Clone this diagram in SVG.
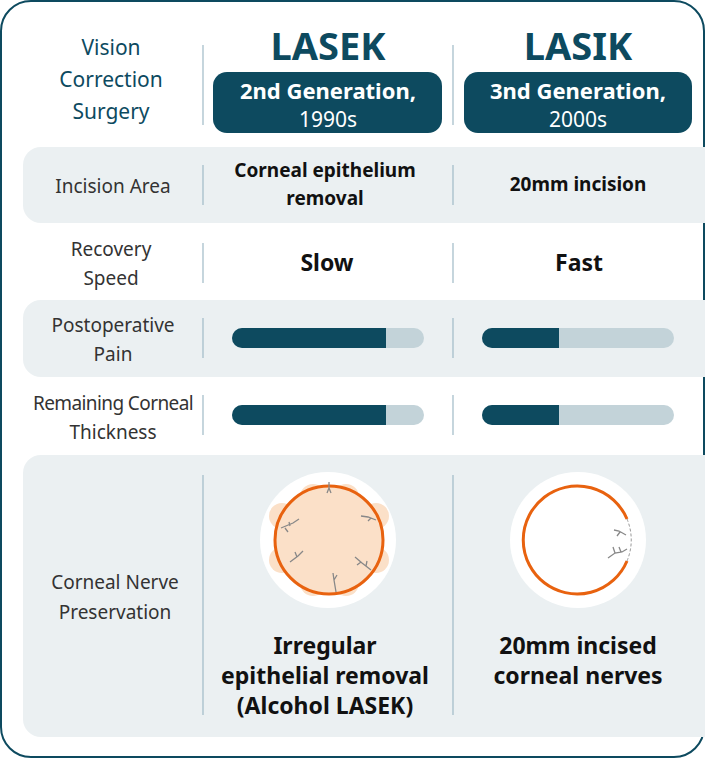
<svg xmlns="http://www.w3.org/2000/svg" width="705" height="758" viewBox="0 0 705 758">
<style>
text{font-family:"Source Sans Pro","Noto Sans","Liberation Sans",sans-serif}
.lab{font-size:19px;fill:#333;text-anchor:middle}
.h{font-size:21px;fill:#0d4a5f;text-anchor:middle}
.val{font-size:19px;font-weight:bold;fill:#111;text-anchor:middle}
.big{font-size:23px;font-weight:bold;fill:#111;text-anchor:middle}
.band{fill:#ebf0f2}
.sep{stroke:#9fbac6;stroke-width:1.2}
.bg{fill:#c3d3d9}
.fg{fill:#0d4a5f}
.nerve{stroke:#888;stroke-width:1.3;fill:none}
</style>
<rect x="1" y="1" width="703" height="756" rx="30" fill="#fff" stroke="#0d4a5f" stroke-width="2"/>
<g id="header">
<text class="h" x="111" y="55">Vision</text>
<text class="h" x="111" y="87">Correction</text>
<text class="h" x="111" y="119">Surgery</text>
<text x="328" y="60" font-size="38" font-weight="bold" fill="#0d4a5f" text-anchor="middle">LASEK</text>
<text x="578" y="60" font-size="38" font-weight="bold" fill="#0d4a5f" text-anchor="middle">LASIK</text>
<rect x="213" y="72" width="229" height="61" rx="14" fill="#0d4a5f"/>
<rect x="464" y="72" width="228" height="61" rx="14" fill="#0d4a5f"/>
<text x="328" y="99" font-size="22" font-weight="bold" fill="#fff" text-anchor="middle">2nd Generation,</text>
<text x="328" y="127" font-size="21" fill="#fff" text-anchor="middle">1990s</text>
<text x="578" y="99" font-size="22" font-weight="bold" fill="#fff" text-anchor="middle">3nd Generation,</text>
<text x="578" y="127" font-size="21" fill="#fff" text-anchor="middle">2000s</text>
</g>
<g id="bands">
<rect class="band" x="23" y="147" width="700" height="76" rx="18"/>
<rect class="band" x="23" y="300" width="700" height="77" rx="18"/>
<rect class="band" x="23" y="455" width="700" height="282" rx="18"/>
</g>
<g id="separators">
<line class="sep" x1="203" y1="45" x2="203" y2="125"/>
<line class="sep" x1="453" y1="45" x2="453" y2="125"/>
<line class="sep" x1="203" y1="165" x2="203" y2="205"/>
<line class="sep" x1="453" y1="165" x2="453" y2="205"/>
<line class="sep" x1="203" y1="243" x2="203" y2="283"/>
<line class="sep" x1="453" y1="243" x2="453" y2="283"/>
<line class="sep" x1="203" y1="318" x2="203" y2="358"/>
<line class="sep" x1="453" y1="318" x2="453" y2="358"/>
<line class="sep" x1="203" y1="395" x2="203" y2="435"/>
<line class="sep" x1="453" y1="395" x2="453" y2="435"/>
<line class="sep" x1="203" y1="475" x2="203" y2="715"/>
<line class="sep" x1="453" y1="475" x2="453" y2="715"/>
</g>
<g id="row-incision">
<text class="lab" x="113" y="193">Incision Area</text>
<text class="val" x="325" y="177">Corneal epithelium</text>
<text class="val" x="325" y="205">removal</text>
<text class="val" x="578" y="191">20mm incision</text>
</g>
<g id="row-recovery">
<text class="lab" x="111" y="256">Recovery</text>
<text class="lab" x="111" y="285">Speed</text>
<text class="big" x="327" y="271">Slow</text>
<text class="big" x="579" y="271">Fast</text>
</g>
<g id="row-pain">
<text class="lab" x="113" y="332">Postoperative</text>
<text class="lab" x="113" y="361">Pain</text>
<rect class="bg" x="232" y="328" width="192" height="20" rx="10"/>
<path class="fg" d="M242 328H386V348H242A10 10 0 0 1 242 328Z"/>
<rect class="bg" x="482" y="328" width="192" height="20" rx="10"/>
<path class="fg" d="M492 328H559V348H492A10 10 0 0 1 492 328Z"/>
</g>
<g id="row-thickness">
<text class="lab" x="113" y="410" style="letter-spacing:-0.6px">Remaining Corneal</text>
<text class="lab" x="113" y="439">Thickness</text>
<rect class="bg" x="232" y="405" width="192" height="20" rx="10"/>
<path class="fg" d="M242 405H386V425H242A10 10 0 0 1 242 405Z"/>
<rect class="bg" x="482" y="405" width="192" height="20" rx="10"/>
<path class="fg" d="M492 405H559V425H492A10 10 0 0 1 492 405Z"/>
</g>
<g id="row-nerve">
<text class="lab" x="115" y="589">Corneal Nerve</text>
<text class="lab" x="115" y="619">Preservation</text>
<circle cx="328" cy="540" r="68" fill="#fff"/>
<g fill="#fbe0c8">
<circle cx="313" cy="497" r="13"/><circle cx="346" cy="497" r="13"/>
<circle cx="282" cy="516" r="13"/><circle cx="376" cy="516" r="13"/>
<circle cx="282" cy="560" r="13"/><circle cx="376" cy="560" r="13"/>
<circle cx="313" cy="583" r="13"/><circle cx="346" cy="583" r="13"/>
<circle cx="329" cy="540" r="54"/>
</g>
<circle cx="329" cy="540" r="54" fill="none" stroke="#e8620f" stroke-width="3"/>
<path class="nerve" d="M329 488v-6M329 488l-2 5M329 488l2 5M281 528l12-5 6-4M285 528l3 4M290 526l-1-4M376 520l-8-3-7-1M371 518l-3 3M290 562l8-6 5-5M297 557l-2-5M336 592l-2-12-1-7M334 580l3-5M371 570l-9-7-7-6M366 566l1-5M361 562l-4 3"/>
<circle cx="578" cy="540" r="68" fill="#fff"/>
<path d="M627 519A54 54 0 1 0 627 561" fill="none" stroke="#e8620f" stroke-width="3"/>
<path d="M627 519A54 54 0 0 1 627 561" fill="none" stroke="#999" stroke-width="1" stroke-dasharray="3 2"/>
<path class="nerve" d="M626 535l-7-4-5-1M620 532l-3 4M608 558l7-5 7-1 5-3M615 553l-2-6M621 552l-2-5"/>
<text class="big" x="325" y="654">Irregular</text>
<text class="big" x="325" y="684">epithelial removal</text>
<text class="big" x="325" y="714">(Alcohol LASEK)</text>
<text class="big" x="578" y="654">20mm incised</text>
<text class="big" x="578" y="684">corneal nerves</text>
</g>
</svg>
